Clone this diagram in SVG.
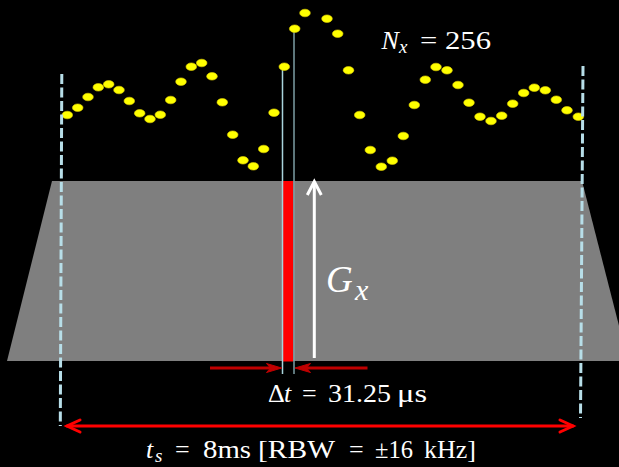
<svg xmlns="http://www.w3.org/2000/svg" width="619" height="467" viewBox="0 0 619 467">
<style>
.dot{fill:#ffff00;stroke:#e0d000;stroke-width:0.6}
.dash{stroke:#b7dee8;stroke-width:3;stroke-dasharray:10,3.5;fill:none}
.txt{fill:#ffffff;font-family:"Liberation Serif","DejaVu Serif",serif}
.it{font-style:italic}
</style>
<rect width="619" height="467" fill="#000000"/>
<g id="gradient-lobe">
<polygon points="52,181 582,181 628,361 7,361" fill="#7f7f7f"/>
</g>
<g id="sample-bar">
<rect x="282.7" y="181" width="10.6" height="180.5" fill="#ff0000"/>
<line x1="282.5" y1="66" x2="282.5" y2="374" stroke="#a9d4dc" stroke-width="1.5"/>
<line x1="294" y1="29" x2="294" y2="374" stroke="#7d9ea4" stroke-width="1.5"/>
</g>
<g id="samples">
<ellipse class="dot" cx="67.3" cy="115" rx="5.3" ry="3.8"/>
<ellipse class="dot" cx="77.7" cy="107.7" rx="5.3" ry="3.8"/>
<ellipse class="dot" cx="88" cy="97" rx="5.3" ry="3.8"/>
<ellipse class="dot" cx="98.3" cy="87.3" rx="5.3" ry="3.8"/>
<ellipse class="dot" cx="108.7" cy="84.3" rx="5.3" ry="3.8"/>
<ellipse class="dot" cx="119" cy="90" rx="5.3" ry="3.8"/>
<ellipse class="dot" cx="129.3" cy="101" rx="5.3" ry="3.8"/>
<ellipse class="dot" cx="139.7" cy="113.3" rx="5.3" ry="3.8"/>
<ellipse class="dot" cx="150" cy="119" rx="5.3" ry="3.8"/>
<ellipse class="dot" cx="160.3" cy="114.7" rx="5.3" ry="3.8"/>
<ellipse class="dot" cx="170.7" cy="100" rx="5.3" ry="3.8"/>
<ellipse class="dot" cx="181" cy="81.7" rx="5.3" ry="3.8"/>
<ellipse class="dot" cx="191.3" cy="66.7" rx="5.3" ry="3.8"/>
<ellipse class="dot" cx="201.7" cy="63" rx="5.3" ry="3.8"/>
<ellipse class="dot" cx="212" cy="76.3" rx="5.3" ry="3.8"/>
<ellipse class="dot" cx="222.3" cy="102.3" rx="5.3" ry="3.8"/>
<ellipse class="dot" cx="232.7" cy="134.7" rx="5.3" ry="3.8"/>
<ellipse class="dot" cx="243" cy="160.3" rx="5.3" ry="3.8"/>
<ellipse class="dot" cx="253.3" cy="166.3" rx="5.3" ry="3.8"/>
<ellipse class="dot" cx="263.7" cy="149" rx="5.3" ry="3.8"/>
<ellipse class="dot" cx="274" cy="112.7" rx="5.3" ry="3.8"/>
<ellipse class="dot" cx="284.3" cy="66.7" rx="5.3" ry="3.8"/>
<ellipse class="dot" cx="294.7" cy="28.7" rx="5.3" ry="3.8"/>
<ellipse class="dot" cx="305" cy="13" rx="5.3" ry="3.8"/>
<ellipse class="dot" cx="327" cy="18.7" rx="5.3" ry="3.8"/>
<ellipse class="dot" cx="337.7" cy="33.7" rx="5.3" ry="3.8"/>
<ellipse class="dot" cx="348.5" cy="70.3" rx="5.3" ry="3.8"/>
<ellipse class="dot" cx="359.7" cy="115" rx="5.3" ry="3.8"/>
<ellipse class="dot" cx="370.3" cy="150" rx="5.3" ry="3.8"/>
<ellipse class="dot" cx="381.3" cy="166.7" rx="5.3" ry="3.8"/>
<ellipse class="dot" cx="392.3" cy="160.7" rx="5.3" ry="3.8"/>
<ellipse class="dot" cx="403.3" cy="136" rx="5.3" ry="3.8"/>
<ellipse class="dot" cx="414.3" cy="105" rx="5.3" ry="3.8"/>
<ellipse class="dot" cx="425.3" cy="79.7" rx="5.3" ry="3.8"/>
<ellipse class="dot" cx="436" cy="67" rx="5.3" ry="3.8"/>
<ellipse class="dot" cx="447" cy="70.3" rx="5.3" ry="3.8"/>
<ellipse class="dot" cx="458" cy="85" rx="5.3" ry="3.8"/>
<ellipse class="dot" cx="469" cy="102.7" rx="5.3" ry="3.8"/>
<ellipse class="dot" cx="480" cy="116.7" rx="5.3" ry="3.8"/>
<ellipse class="dot" cx="491" cy="121" rx="5.3" ry="3.8"/>
<ellipse class="dot" cx="501.7" cy="115.7" rx="5.3" ry="3.8"/>
<ellipse class="dot" cx="512.7" cy="103.7" rx="5.3" ry="3.8"/>
<ellipse class="dot" cx="523.7" cy="93" rx="5.3" ry="3.8"/>
<ellipse class="dot" cx="534.3" cy="87.7" rx="5.3" ry="3.8"/>
<ellipse class="dot" cx="545.3" cy="90.3" rx="5.3" ry="3.8"/>
<ellipse class="dot" cx="556.3" cy="99.7" rx="5.3" ry="3.8"/>
<ellipse class="dot" cx="567" cy="110.3" rx="5.3" ry="3.8"/>
<ellipse class="dot" cx="578.3" cy="116.7" rx="5.3" ry="3.8"/>
</g>
<g id="connectors">
<line class="dash" x1="61.8" y1="74" x2="60.3" y2="426"/>
<line class="dash" x1="583" y1="66" x2="580.5" y2="418"/>
<g id="ts-arrow" stroke="#ff0000" stroke-width="3" fill="none" stroke-linecap="round">
<line x1="67" y1="426" x2="573" y2="426"/>
<polyline points="80,420 67,426 80,432"/>
<polyline points="560,420 573,426 560,432"/>
</g>
<g id="dt-arrows" stroke="#c00000" stroke-width="3" fill="#c00000">
<line x1="210" y1="368" x2="272" y2="368"/>
<line x1="367.5" y1="368" x2="305" y2="368"/>
<path d="M281.7,368 L266.5,363.5 L270.5,368 L266.5,372.5 Z" stroke-width="1"/>
<path d="M295,368 L310.5,363.5 L306.5,368 L310.5,372.5 Z" stroke-width="1"/>
</g>
<g id="gx-arrow" stroke="#ffffff" stroke-width="3" fill="none">
<line x1="314.3" y1="358" x2="314.3" y2="182"/>
<polyline points="307.3,195 314.3,181.5 321.3,195"/>
</g>
</g>
<g id="labels">
<text class="txt" x="381.5" y="49" font-size="26"><tspan class="it">N</tspan><tspan class="it" x="399" y="53" font-size="19">x</tspan><tspan x="420" y="49" textLength="71" lengthAdjust="spacingAndGlyphs">= 256</tspan></text>
<text class="txt" x="326" y="292" font-size="37"><tspan class="it">G</tspan><tspan class="it" x="355" y="300" font-size="30">x</tspan></text>
<text class="txt" y="401.5" font-size="26"><tspan x="268">Δ</tspan><tspan class="it" x="284">t</tspan><tspan x="302">=</tspan><tspan x="328" textLength="63" lengthAdjust="spacingAndGlyphs">31.25</tspan><tspan x="397" textLength="30" lengthAdjust="spacingAndGlyphs">μs</tspan></text>
<text class="txt" y="458" font-size="26"><tspan class="it" x="146">t</tspan><tspan class="it" x="155" y="462" font-size="19">s</tspan><tspan x="175" y="458">=</tspan><tspan x="203" textLength="48" lengthAdjust="spacingAndGlyphs">8ms</tspan><tspan x="258" textLength="77" lengthAdjust="spacingAndGlyphs">[RBW</tspan><tspan x="349">=</tspan><tspan x="375" textLength="38" lengthAdjust="spacingAndGlyphs">±16</tspan><tspan x="424" textLength="52" lengthAdjust="spacingAndGlyphs">kHz]</tspan></text>
</g>
</svg>
